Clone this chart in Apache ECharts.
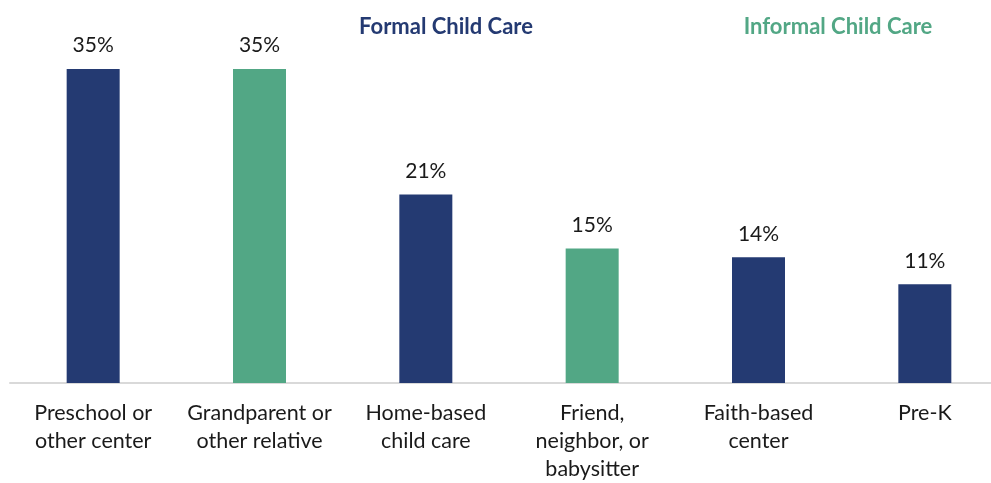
<!DOCTYPE html>
<html>
<head>
<meta charset="utf-8">
<script src="https://cdn.jsdelivr.net/npm/echarts@6/dist/echarts.min.js"></script>
<style>
  html, body { margin: 0; padding: 0; background: #ffffff; overflow: hidden; }
  /* canvas runs a little past the right edge so the axis line bleeds off */
  #chart { width: 1010px; height: 483px; }
</style>
</head>
<body>
<div id="chart"></div>
<script>
// Care arrangements and share of respondents using each (%)
const categories = [
  'Preschool or\nother center',
  'Grandparent or\nother relative',
  'Home-based\nchild care',
  'Friend,\nneighbor, or\nbabysitter',
  'Faith-based\ncenter',
  'Pre-K'
];
const shares = [35, 35, 21, 15, 14, 11];
const careType = ['formal', 'informal', 'formal', 'informal', 'formal', 'formal'];

const NAVY = '#243a72';
const GREEN = '#52a785';
const FONT = 'Lato, "Open Sans", sans-serif';

const chart = echarts.init(document.getElementById('chart'), null, { renderer: 'canvas' });

chart.setOption({
  backgroundColor: '#ffffff',
  animation: false,
  title: [
    {
      text: 'Formal Child Care',
      left: 441, top: 11, textAlign: 'center',
      textStyle: { color: NAVY, fontFamily: FONT, fontWeight: 'bold', fontSize: 22 }
    },
    {
      text: 'Informal Child Care',
      left: 833, top: 11, textAlign: 'center',
      textStyle: { color: GREEN, fontFamily: FONT, fontWeight: 'bold', fontSize: 22 }
    }
  ],
  grid: { left: 10, top: 24, width: 998, bottom: 100, containLabel: false },
  xAxis: {
    type: 'category',
    data: categories,
    axisLine: { show: true, lineStyle: { color: '#d9d9d9', width: 2 } },
    axisTick: { show: false },
    axisLabel: {
      interval: 0,
      margin: 16,
      color: '#1a1a1a',
      fontFamily: FONT,
      fontSize: 21.5,
      lineHeight: 28,
      align: 'center'
    }
  },
  yAxis: {
    type: 'value',
    min: 0,
    max: 40,
    show: false,
    splitLine: { show: false }
  },
  series: [{
    type: 'bar',
    barWidth: 53,
    data: shares.map((v, i) => ({
      value: v,
      itemStyle: { color: careType[i] === 'formal' ? NAVY : GREEN }
    })),
    label: {
      show: true,
      position: 'top',
      distance: 13,
      formatter: p => p.value + '%',
      color: '#1a1a1a',
      fontFamily: FONT,
      fontSize: 21
    }
  }]
});
</script>
</body>
</html>
